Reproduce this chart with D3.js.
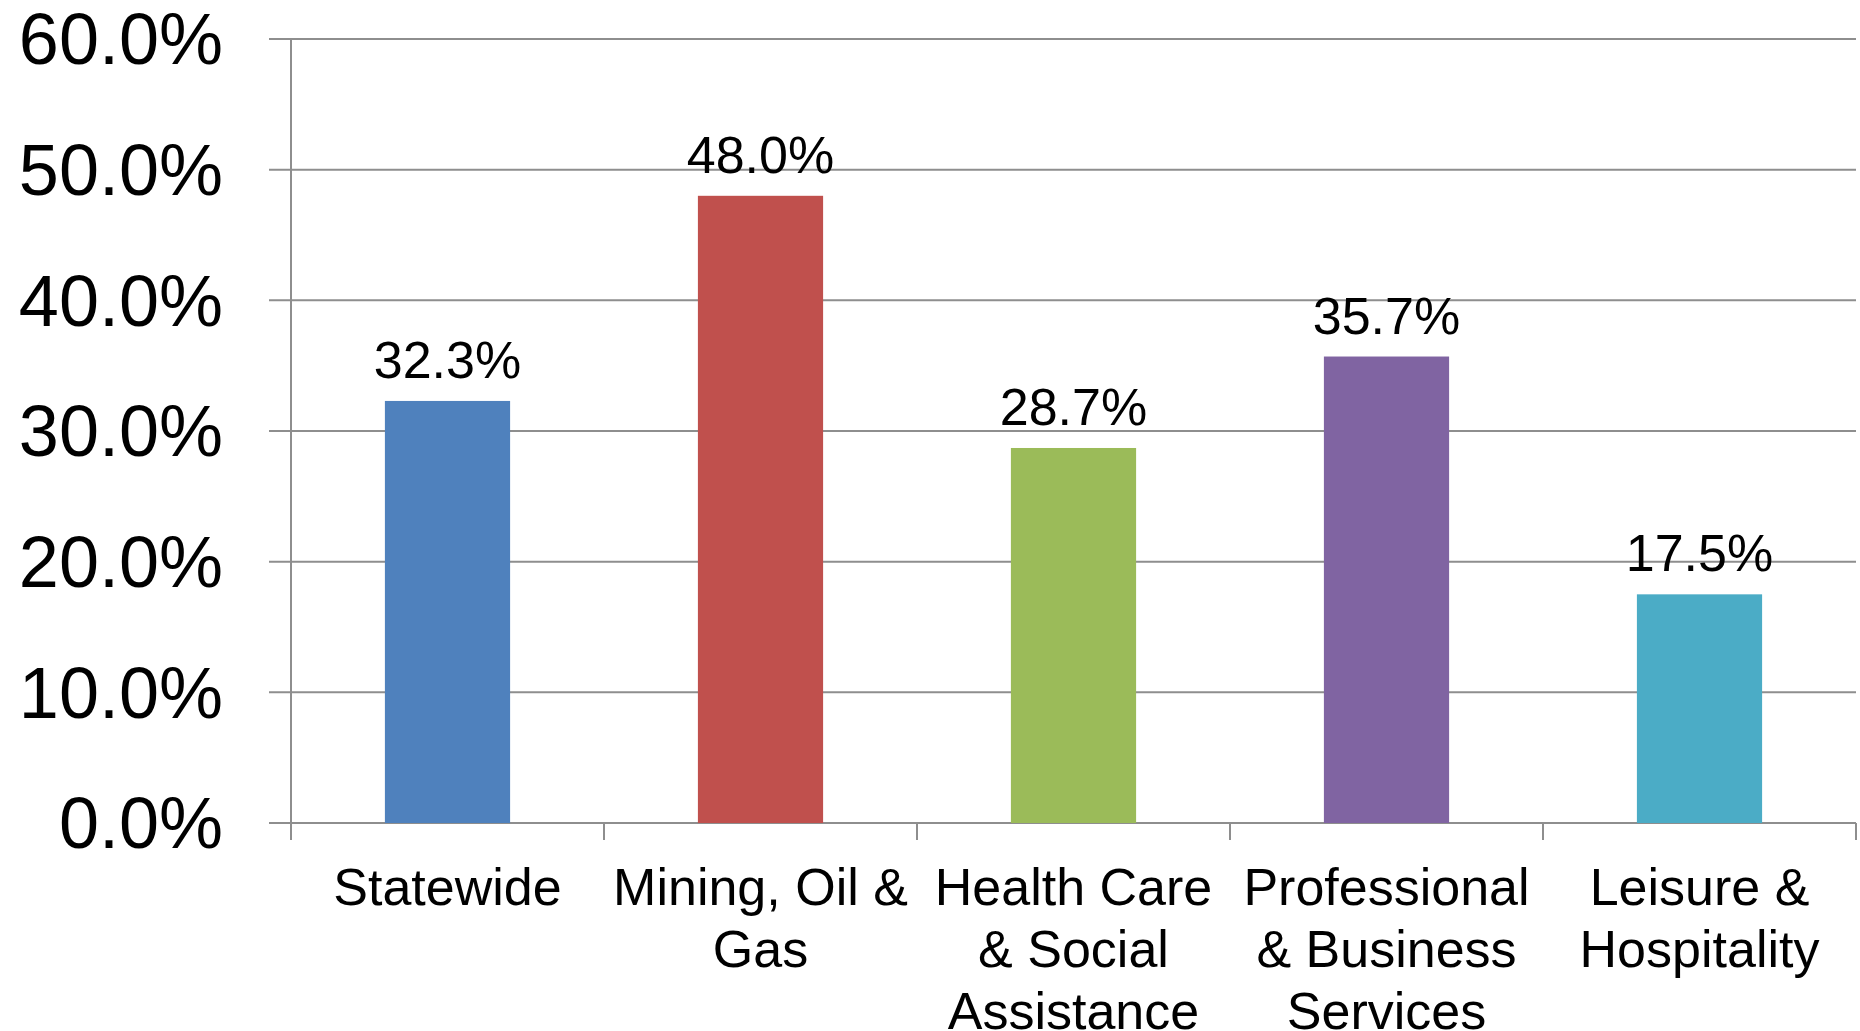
<!DOCTYPE html>
<html>
<head>
<meta charset="utf-8">
<script src="https://cdn.jsdelivr.net/npm/d3@7"></script>
<style>
  body { margin: 0; background: #fff; }
  text { font-family: "Liberation Sans", Arial, sans-serif; fill: #000; }
</style>
</head>
<body>
<svg id="chart" width="1860" height="1031"></svg>
<script>
// data
const categories = ["Statewide", "Mining, Oil & Gas", "Health Care & Social Assistance", "Professional & Business Services", "Leisure & Hospitality"];
const labelLines = [["Statewide"], ["Mining, Oil &", "Gas"], ["Health Care", "& Social", "Assistance"], ["Professional", "& Business", "Services"], ["Leisure &", "Hospitality"]];
const values = [32.3, 48.0, 28.7, 35.7, 17.5];
const colors = ["#4F81BD", "#C0504D", "#9BBB59", "#8064A2", "#4BACC6"];
const yTicks = [0, 10, 20, 30, 40, 50, 60];

const svg = d3.select("#chart");
const plotLeft = 291, plotRight = 1856, plotTop = 39, plotBottom = 823;
const lineColor = "#8e8e8e";

const x = d3.scaleBand()
    .domain(categories)
    .range([plotLeft, plotRight])
    .paddingInner(0.6)
    .paddingOuter(0.3);

const y = d3.scaleLinear()
    .domain([0, 60])
    .range([plotBottom, plotTop]);

const step = x.step();

// gridlines + y tick marks
svg.append("g")
    .selectAll("line")
    .data(yTicks)
    .join("line")
    .attr("x1", plotLeft - 22)
    .attr("x2", plotRight)
    .attr("y1", d => y(d))
    .attr("y2", d => y(d))
    .attr("stroke", lineColor)
    .attr("stroke-width", 2);

// y axis line
svg.append("line")
    .attr("x1", plotLeft).attr("x2", plotLeft)
    .attr("y1", plotTop).attr("y2", plotBottom + 17)
    .attr("stroke", lineColor)
    .attr("stroke-width", 2);

// x tick marks at category boundaries
const boundaries = d3.range(categories.length + 1).map(i => plotLeft + i * step);
svg.append("g")
    .selectAll("line")
    .data(boundaries)
    .join("line")
    .attr("x1", d => d).attr("x2", d => d)
    .attr("y1", plotBottom).attr("y2", plotBottom + 17)
    .attr("stroke", lineColor)
    .attr("stroke-width", 2);

// y labels
svg.append("g")
    .selectAll("text")
    .data(yTicks)
    .join("text")
    .attr("x", 223)
    .attr("y", d => y(d))
    .attr("dy", "0.35em")
    .attr("text-anchor", "end")
    .style("font-size", "72px")
    .text(d => d.toFixed(1) + "%");

// bars
svg.append("g")
    .selectAll("rect")
    .data(values)
    .join("rect")
    .attr("x", (d, i) => x(categories[i]))
    .attr("width", x.bandwidth())
    .attr("y", d => y(d))
    .attr("height", d => plotBottom - y(d))
    .attr("fill", (d, i) => colors[i]);

// value labels
svg.append("g")
    .selectAll("text")
    .data(values)
    .join("text")
    .attr("x", (d, i) => x(categories[i]) + x.bandwidth() / 2)
    .attr("y", d => y(d) - 23)
    .attr("text-anchor", "middle")
    .style("font-size", "52px")
    .text(d => d.toFixed(1) + "%");

// category labels
labelLines.forEach(function(lines, i) {
    const cx = x(categories[i]) + x.bandwidth() / 2;
    lines.forEach(function(line, j) {
        svg.append("text")
            .attr("x", cx)
            .attr("y", 905 + j * 62)
            .attr("text-anchor", "middle")
            .style("font-size", "52px")
            .text(line);
    });
});
</script>
</body>
</html>
